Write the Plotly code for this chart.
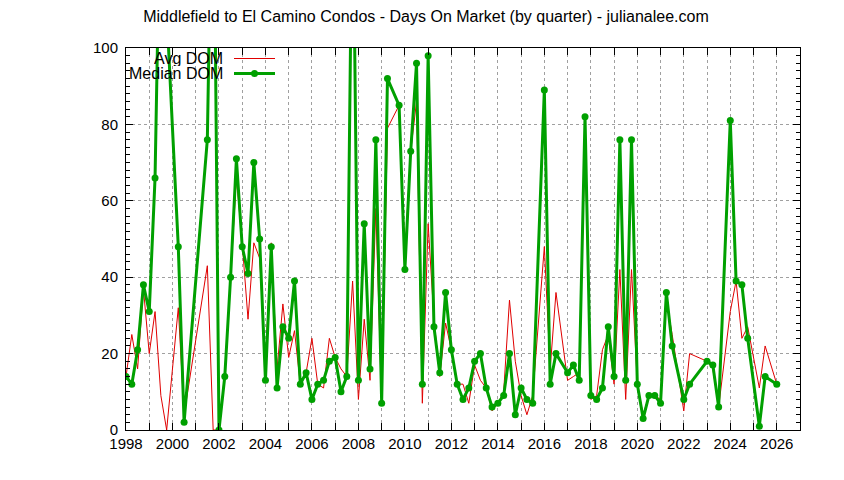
import plotly.graph_objects as go

# ---- data ----
quarters = [
    1998.0, 1998.25, 1998.5, 1998.75, 1999.0, 1999.25, 1999.5, 1999.75,
    2000.25, 2000.5, 2001.5, 2001.75, 2002.0, 2002.25, 2002.5, 2002.75,
    2003.0, 2003.25, 2003.5, 2003.75, 2004.0, 2004.25, 2004.5, 2004.75,
    2005.0, 2005.25, 2005.5, 2005.75, 2006.0, 2006.25, 2006.5, 2006.75,
    2007.0, 2007.25, 2007.5, 2007.75, 2008.0, 2008.25, 2008.5, 2008.75,
    2009.0, 2009.25, 2009.75, 2010.0, 2010.25, 2010.5, 2010.75, 2011.0,
    2011.25, 2011.5, 2011.75, 2012.0, 2012.25, 2012.5, 2012.75, 2013.0,
    2013.25, 2013.5, 2013.75, 2014.0, 2014.25, 2014.5, 2014.75, 2015.0,
    2015.25, 2015.5, 2016.0, 2016.25, 2016.5, 2017.0, 2017.25, 2017.5,
    2017.75, 2018.0, 2018.25, 2018.5, 2018.75, 2019.0, 2019.25, 2019.5,
    2019.75, 2020.0, 2020.25, 2020.5, 2020.75, 2021.0, 2021.25, 2021.5,
    2022.0, 2022.25, 2023.0, 2023.25, 2023.5, 2024.0, 2024.25, 2024.5,
    2024.75, 2025.25, 2025.5, 2026.0,
]

avg_dom = [
    14, 25, 16, 37, 20, 31, 9, 0,
    32, 4, 43, 0, 0, 15, 40, 66,
    49, 29, 49, 45, 18, 49, 16, 33,
    19, 26, 12, 15, 24, 12, 11, 24,
    19, 16, 14, 39, 8, 29, 13, 58,
    7, 79, 85, 46, 73, 86, 7, 54,
    29, 14, 28, 21, 12, 12, 7, 17,
    13, 11, 5, 7, 10, 34, 18, 9,
    4, 9, 48, 16, 36, 13, 14, 15,
    76, 8, 9, 21, 25, 12, 42, 8,
    42, 12, 4, 9, 9, 8, 34, 25,
    5, 20, 18, 16, 6, 31, 39, 24,
    27, 11, 22, 12,
]

median_dom = [
    14, 12, 21, 38, 31, 66, 150, 110,
    48, 2, 76, 165, 0, 14, 40, 71,
    48, 41, 70, 50, 13, 48, 11, 27,
    24, 39, 12, 15, 8, 12, 13, 18,
    19, 10, 14, 150, 13, 54, 16, 76,
    7, 92, 85, 42, 73, 96, 12, 98,
    27, 15, 36, 21, 12, 8, 11, 18,
    20, 11, 6, 7, 9, 20, 4, 11,
    8, 7, 89, 12, 20, 15, 17, 13,
    82, 9, 8, 11, 27, 14, 76, 13,
    76, 12, 3, 9, 9, 7, 36, 22,
    8, 12, 18, 17, 6, 81, 39, 38,
    24, 1, 14, 12,
]

year_ticks = list(range(1998, 2028))
year_labels = [str(y) if y % 2 == 0 else "" for y in year_ticks]
y_ticks = [0, 20, 40, 60, 80, 100]

title_text = "Middlefield to El Camino Condos - Days On Market (by quarter) - julianalee.com"
series_names = ["Avg DOM", "Median DOM"]

RED = "#e00000"
GREEN = "#00a000"
FONT = "Liberation Sans, Arial, sans-serif"

# page body has an 8px margin; the figure is sized so the plot area lands
# at x 126..800, y 48..430 in the window
FIG_W, FIG_H = 836, 472
M_L, M_R, M_T, M_B = 118, 44, 40, 50

fig = go.Figure()
fig.add_trace(go.Scatter(
    x=quarters, y=avg_dom, mode="lines", name=series_names[0],
    line=dict(color=RED, width=1), showlegend=False,
))
fig.add_trace(go.Scatter(
    x=quarters, y=median_dom, mode="lines+markers", name=series_names[1],
    line=dict(color=GREEN, width=3),
    marker=dict(color=GREEN, size=7, symbol="circle"),
    showlegend=False,
))

axis_common = dict(
    showline=True, linecolor="black", linewidth=1, mirror="ticks",
    ticks="inside", tickcolor="black", ticklen=7,
    showgrid=True, gridcolor="#a0a0a0", gridwidth=1, griddash="3px,3px",
    zeroline=False,
    tickfont=dict(family=FONT, size=15, color="black"),
)

fig.update_xaxes(
    range=[1998, 2027], tickmode="array", tickvals=year_ticks, ticktext=year_labels,
    **axis_common,
)
fig.update_yaxes(
    range=[0, 100], tickmode="array", tickvals=y_ticks, ticklabelstandoff=4,
    minor=dict(dtick=2, tick0=0, ticks="inside", ticklen=4, tickcolor="black", showgrid=False),
    **axis_common,
)

# custom gnuplot-style legend (text left, sample right); coordinates in window pixels
px_w = FIG_W - M_L - M_R
px_h = FIG_H - M_T - M_B
def px_to_paper(px, py):
    return (px - 8 - M_L) / px_w, (8 + FIG_H - M_B - py) / px_h

rows = [(series_names[0], 58.5, RED, 1, False), (series_names[1], 73.5, GREEN, 3, True)]
annotations = []
shapes = []
for name, py, col, w, mk in rows:
    tx, ty = px_to_paper(224, py)
    annotations.append(dict(
        x=tx, y=ty, xref="paper", yref="paper", text=name, showarrow=False,
        xanchor="right", yanchor="middle", height=15, borderpad=0,
        font=dict(family=FONT, size=16, color="black"),
    ))
    x0, _ = px_to_paper(234, py)
    x1, _ = px_to_paper(275, py)
    shapes.append(dict(type="line", xref="paper", yref="paper",
                       x0=x0, x1=x1, y0=ty, y1=ty, line=dict(color=col, width=w)))
    if mk:
        cx0, cy0 = px_to_paper(251, py - 3.5)
        cx1, cy1 = px_to_paper(258, py + 3.5)
        shapes.append(dict(type="circle", xref="paper", yref="paper",
                           x0=cx0, x1=cx1, y0=cy1, y1=cy0,
                           fillcolor=col, line=dict(color=col, width=0)))

fig.update_layout(
    width=FIG_W, height=FIG_H,
    margin=dict(l=M_L, r=M_R, t=M_T, b=M_B),
    paper_bgcolor="white", plot_bgcolor="white",
    title=dict(text=title_text, x=0.5, xanchor="center", y=1 - 8 / FIG_H,
               yanchor="middle", yref="container",
               font=dict(family=FONT, size=16, color="black")),
    annotations=annotations,
    shapes=shapes,
    showlegend=False,
)

fig.write_html("out.html")
